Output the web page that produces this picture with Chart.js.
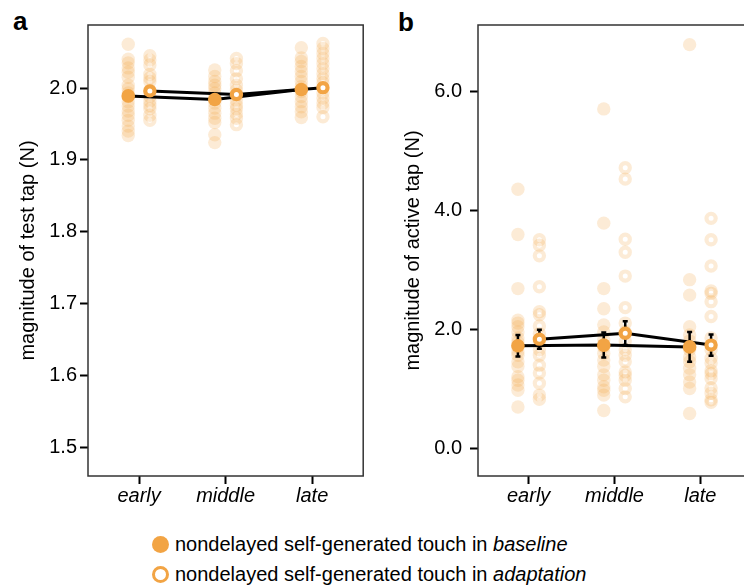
<!DOCTYPE html>
<html>
<head>
<meta charset="utf-8">
<script src="https://cdn.jsdelivr.net/npm/chart.js@4/dist/chart.umd.min.js"></script>
<style>
    html, body { margin: 0; padding: 0; background: #fff; overflow: hidden; }
    body { width: 744px; height: 587px; position: relative; font-family: "Liberation Sans", Arial, sans-serif; }
    canvas { position: absolute; top: 0; }
    #chartA { left: 0; }
    #chartB { left: 380px; }
    .panel { position: absolute; font-weight: bold; font-size: 26px; line-height: 26px; color: #000; }
    .legend-row { position: absolute; left: 175px; font-size: 20px; line-height: 24px; color: #000; white-space: nowrap; }
    .dot { position: absolute; left: 152px; width: 17px; height: 17px; border-radius: 50%; box-sizing: border-box; }
</style>
</head>
<body>
<div class="panel" style="left:13px; top:8px;">a</div>
<div class="panel" style="left:398px; top:9px;">b</div>
<canvas id="chartA" width="372" height="520"></canvas>
<canvas id="chartB" width="380" height="520"></canvas>

<div class="dot" style="top:536px; background:#f2a444;"></div>
<div class="legend-row" style="top:532px;">nondelayed self-generated touch in <i>baseline</i></div>
<div class="dot" style="top:566px; border:3px solid #f2a444;"></div>
<div class="legend-row" style="top:562px;">nondelayed self-generated touch in <i>adaptation</i></div>

<script>
(function () {
    "use strict";

    const categories = ["early", "middle", "late"];

    // panel a: magnitude of test tap (N), individual participants
    const aBaseEarly = [2.061, 2.040, 2.035, 2.028, 2.022, 2.015, 2.004, 1.999, 1.993, 1.988, 1.981, 1.975, 1.968, 1.962, 1.955, 1.947, 1.940, 1.934];
    const aBaseMiddle = [2.025, 2.016, 2.009, 2.004, 1.999, 1.993, 1.987, 1.979, 1.972, 1.965, 1.958, 1.952, 1.935, 1.924];
    const aBaseLate = [2.056, 2.042, 2.037, 2.030, 2.023, 2.016, 2.009, 2.002, 1.995, 1.988, 1.981, 1.974, 1.967, 1.959];
    const aAdaptEarly = [2.045, 2.039, 2.032, 2.019, 2.014, 2.009, 1.997, 1.988, 1.982, 1.976, 1.971, 1.962, 1.955];
    const aAdaptMiddle = [2.041, 2.034, 2.024, 2.013, 2.004, 1.997, 1.990, 1.983, 1.976, 1.971, 1.964, 1.958, 1.949];
    const aAdaptLate = [2.062, 2.055, 2.048, 2.041, 2.034, 2.027, 2.020, 2.013, 2.007, 1.993, 1.986, 1.979, 1.973, 1.960];
    const aBaseMean = [1.989, 1.984, 1.998];
    const aBaseErr = [0.005, 0.005, 0.005];
    const aAdaptMean = [1.996, 1.991, 2.0005];
    const aAdaptErr = [0.005, 0.005, 0.005];
    const aTicks = [1.5, 1.6, 1.7, 1.8, 1.9, 2.0];

    // panel b: magnitude of active tap (N), individual participants
    const bBaseEarly = [4.35, 3.59, 2.68, 2.15, 2.10, 2.04, 1.95, 1.85, 1.78, 1.70, 1.62, 1.56, 1.45, 1.37, 1.20, 1.14, 1.06, 0.97, 0.69];
    const bBaseMiddle = [5.70, 3.78, 2.68, 2.34, 2.07, 1.95, 1.82, 1.70, 1.59, 1.48, 1.37, 1.23, 1.14, 1.03, 0.97, 0.89, 0.63];
    const bBaseLate = [6.78, 2.83, 2.57, 2.04, 1.90, 1.80, 1.65, 1.53, 1.45, 1.34, 1.23, 1.11, 1.00, 0.58];
    const bAdaptEarly = [3.50, 3.41, 3.23, 2.71, 2.29, 2.24, 2.05, 1.92, 1.78, 1.65, 1.56, 1.39, 1.26, 1.09, 0.89, 0.82];
    const bAdaptMiddle = [4.71, 4.52, 3.51, 3.29, 2.89, 2.36, 2.10, 1.95, 1.80, 1.65, 1.56, 1.45, 1.28, 1.22, 1.14, 1.00, 0.86];
    const bAdaptLate = [3.86, 3.50, 3.06, 2.64, 2.60, 2.46, 2.21, 1.85, 1.65, 1.51, 1.43, 1.30, 1.25, 1.17, 1.01, 0.92, 0.81, 0.77];
    const bBaseMean = [1.72, 1.73, 1.70];
    const bBaseErr = [0.18, 0.21, 0.25];
    const bAdaptMean = [1.83, 1.93, 1.73];
    const bAdaptErr = [0.16, 0.20, 0.18];
    const bTicks = [0, 2, 4, 6];

    const orange = "#f2a444";
    const faded = "rgba(242, 164, 68, 0.22)";
    const shift = 0.125;

    function cloud(columns, dx) {
        const pts = [];
        columns.forEach((col, i) => {
            col.forEach((v) => pts.push({ x: i + 1 + dx, y: v }));
        });
        return pts;
    }

    function means(vals, dx) {
        return vals.map((v, i) => ({ x: i + 1 + dx, y: v }));
    }

    // axis box
    const boxPlugin = {
        id: "box",
        beforeDatasetsDraw(chart) {
            const { ctx, chartArea: a } = chart;
            ctx.save();
            ctx.strokeStyle = "#333";
            ctx.lineWidth = 1.5;
            ctx.strokeRect(a.left, a.top, a.right - a.left, a.bottom - a.top);
            ctx.restore();
        },
    };

    // error bars, drawn just under the mean markers
    const errorPlugin = {
        id: "errorBars",
        beforeDatasetDraw(chart, args, opts) {
            if (chart.data.datasets[args.index].label !== "baseline mean") return;
            const { ctx, scales } = chart;
            ctx.save();
            ctx.strokeStyle = "#000";
            ctx.lineWidth = 2.5;
            opts.bars.forEach((bar) => {
                bar.mean.forEach((m, i) => {
                    const x = scales.x.getPixelForValue(i + 1 + bar.dx);
                    const y1 = scales.y.getPixelForValue(m + bar.err[i]);
                    const y2 = scales.y.getPixelForValue(m - bar.err[i]);
                    ctx.beginPath();
                    ctx.moveTo(x, y1);
                    ctx.lineTo(x, y2);
                    ctx.moveTo(x - 2.5, y1);
                    ctx.lineTo(x + 2.5, y1);
                    ctx.moveTo(x - 2.5, y2);
                    ctx.lineTo(x + 2.5, y2);
                    ctx.stroke();
                });
            });
            ctx.restore();
        },
    };

    function makeChart(id, cfg) {
        const ctx = document.getElementById(id).getContext("2d");
        return new Chart(ctx, {
            type: "scatter",
            data: {
                datasets: [
                    {
                        label: "baseline cloud",
                        data: cloud(cfg.base, -shift),
                        pointRadius: 6.7,
                        pointBorderWidth: 0,
                        pointBackgroundColor: faded,
                        order: 5,
                    },
                    {
                        label: "adaptation cloud",
                        data: cloud(cfg.adapt, shift),
                        pointRadius: 4.6,
                        pointBorderWidth: 4.2,
                        pointBorderColor: faded,
                        pointBackgroundColor: "rgba(0,0,0,0)",
                        order: 4,
                    },
                    {
                        label: "baseline line",
                        data: means(cfg.baseMean, -shift),
                        showLine: true,
                        borderColor: "#000",
                        borderWidth: 3,
                        pointRadius: 0,
                        order: 3,
                    },
                    {
                        label: "adaptation line",
                        data: means(cfg.adaptMean, shift),
                        showLine: true,
                        borderColor: "#000",
                        borderWidth: 3,
                        pointRadius: 0,
                        order: 3,
                    },
                    {
                        label: "baseline mean",
                        data: means(cfg.baseMean, -shift),
                        pointRadius: 6.8,
                        pointBorderWidth: 0,
                        pointBackgroundColor: orange,
                        order: 1,
                    },
                    {
                        label: "adaptation mean",
                        data: means(cfg.adaptMean, shift),
                        pointRadius: 4.6,
                        pointBorderWidth: 4.2,
                        pointBorderColor: orange,
                        pointBackgroundColor: "#fff",
                        order: 0,
                    },
                ],
            },
            options: {
                responsive: false,
                animation: false,
                layout: {
                    padding: { left: 0, top: 25, right: cfg.padRight, bottom: 0 },
                },
                plugins: {
                    legend: { display: false },
                    tooltip: { enabled: false },
                    errorBars: {
                        bars: [
                            { mean: cfg.baseMean, err: cfg.baseErr, dx: -shift },
                            { mean: cfg.adaptMean, err: cfg.adaptErr, dx: shift },
                        ],
                    },
                },
                scales: {
                    x: {
                        type: "linear",
                        min: 0.41,
                        max: 3.59,
                        afterBuildTicks: (scale) => {
                            scale.ticks = categories.map((c, i) => ({ value: i + 1 }));
                        },
                        afterFit: (scale) => {
                            scale.height = 44;
                        },
                        ticks: {
                            callback: (value) => categories[value - 1],
                            font: { family: "Liberation Sans", size: 20, style: "italic" },
                            color: "#000",
                            padding: 0,
                            maxRotation: 0,
                            autoSkip: false,
                        },
                        grid: {
                            drawOnChartArea: false,
                            tickLength: 8,
                            tickColor: "#000",
                            tickWidth: 2,
                        },
                        border: { display: false },
                    },
                    y: {
                        min: cfg.yMin,
                        max: cfg.yMax,
                        afterBuildTicks: (scale) => {
                            scale.ticks = cfg.ticks.map((v) => ({ value: v }));
                        },
                        afterFit: (scale) => {
                            scale.width = cfg.yWidth;
                        },
                        ticks: {
                            callback: (value) => value.toFixed(1),
                            font: { family: "Liberation Sans", size: 20 },
                            color: "#000",
                            padding: cfg.tickPad,
                        },
                        grid: {
                            drawOnChartArea: false,
                            tickLength: 8,
                            tickColor: "#000",
                            tickWidth: 2,
                        },
                        border: { display: false },
                        title: {
                            display: true,
                            text: cfg.title,
                            font: { family: "Liberation Sans", size: 20 },
                            color: "#000",
                            padding: { top: cfg.titlePad, bottom: 0 },
                        },
                    },
                },
            },
            plugins: [boxPlugin, errorPlugin],
        });
    }

    makeChart("chartA", {
        base: [aBaseEarly, aBaseMiddle, aBaseLate],
        adapt: [aAdaptEarly, aAdaptMiddle, aAdaptLate],
        baseMean: aBaseMean,
        baseErr: aBaseErr,
        adaptMean: aAdaptMean,
        adaptErr: aAdaptErr,
        ticks: aTicks,
        yMin: 1.46,
        yMax: 2.0877,
        yWidth: 88,
        tickPad: 3,
        titlePad: 16,
        padRight: 5,
        title: "magnitude of test tap (N)",
    });

    makeChart("chartB", {
        base: [bBaseEarly, bBaseMiddle, bBaseLate],
        adapt: [bAdaptEarly, bAdaptMiddle, bAdaptLate],
        baseMean: bBaseMean,
        baseErr: bBaseErr,
        adaptMean: bAdaptMean,
        adaptErr: bAdaptErr,
        ticks: bTicks,
        yMin: -0.47,
        yMax: 7.11,
        yWidth: 98,
        tickPad: 8,
        titlePad: 21,
        padRight: 9,
        title: "magnitude of active tap (N)",
    });
})();
</script>
</body>
</html>
